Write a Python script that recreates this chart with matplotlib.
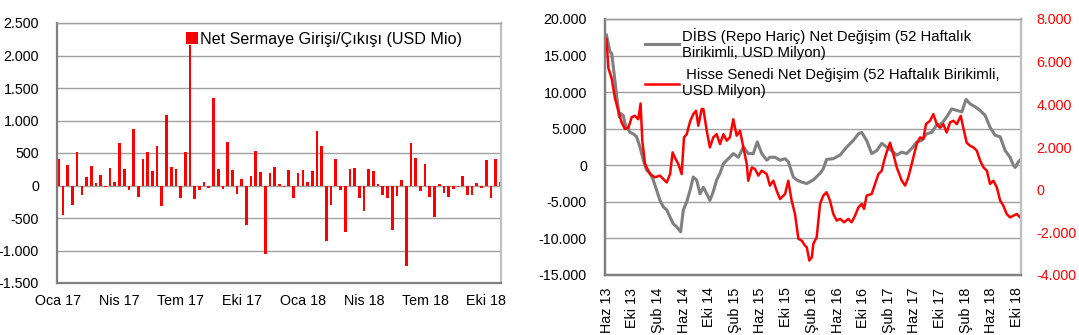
import numpy as np
import pandas as pd
import matplotlib
matplotlib.use('Agg')
import matplotlib.pyplot as plt
from matplotlib.ticker import FuncFormatter

plt.rcParams['font.family'] = ['Liberation Sans', 'DejaVu Sans']
plt.rcParams['font.size'] = 10.3

# left chart: weekly net capital flow (USD mn), Fridays from 6 Jan 2017
flow_start = '2017-01-06'
net_flow = [410, -460, 320, -300, 520, -145, 135, 305, 45, 155,
            -20, 270, 60, 650, 260, -70, 865, -170, 410, 520,
            230, 605, -310, 1090, 290, 255, -185, 515, 2155, -215,
            -70, 60, -35, 1345, 255, -60, 670, 245, -130, 105,
            -600, 145, 535, 210, -1050, 195, 285, 25, -20, 245,
            -190, 200, 235, 50, 225, 845, 615, -850, -305, 405,
            -75, -710, 250, 270, -190, -390, 260, 230, 20, -150,
            -185, -690, -155, 85, -1240, 655, 425, -90, 335, -175,
            -485, 30, -115, -180, -50, -20, 150, -140, -150, 40,
            -35, 390, -190, 415, 50]
left_ticks = ['2017-01-06', '2017-04-07', '2017-07-07', '2017-10-06',
              '2018-01-05', '2018-04-06', '2018-07-06', '2018-10-05']
left_labels = ['Oca 17', 'Nis 17', 'Tem 17', 'Eki 17',
               'Oca 18', 'Nis 18', 'Tem 18', 'Eki 18']

# right chart: 52 week cumulative changes (USD mn)
dibs_dates = ['2013-05-31', '2013-06-17', '2013-06-25', '2013-07-10', '2013-07-21',
              '2013-07-31', '2013-08-06', '2013-08-19', '2013-08-27', '2013-09-04',
              '2013-09-20', '2013-10-05', '2013-10-21', '2013-11-06', '2013-11-22',
              '2013-12-08', '2013-12-24', '2014-01-08', '2014-01-24', '2014-02-09',
              '2014-02-25', '2014-03-13', '2014-03-29', '2014-04-13', '2014-04-29',
              '2014-05-18', '2014-05-31', '2014-06-16', '2014-07-02', '2014-07-17',
              '2014-08-02', '2014-08-18', '2014-09-03', '2014-09-19', '2014-10-04',
              '2014-10-20', '2014-11-05', '2014-11-21', '2014-12-07', '2014-12-23',
              '2015-01-07', '2015-01-23', '2015-02-16', '2015-03-12', '2015-04-04',
              '2015-04-28', '2015-05-17', '2015-06-07', '2015-07-01', '2015-07-16',
              '2015-08-09', '2015-09-02', '2015-09-26', '2015-10-11', '2015-11-04',
              '2015-11-20', '2015-12-14', '2016-01-07', '2016-02-07', '2016-03-10',
              '2016-03-25', '2016-04-10', '2016-05-12', '2016-06-13', '2016-07-15',
              '2016-08-15', '2016-09-08', '2016-09-24', '2016-10-17', '2016-11-10',
              '2016-12-04', '2016-12-28', '2017-01-20', '2017-02-13', '2017-03-09',
              '2017-04-02', '2017-04-25', '2017-05-19', '2017-06-12', '2017-07-06',
              '2017-07-29', '2017-08-22', '2017-09-15', '2017-10-09', '2017-11-01',
              '2017-11-25', '2017-12-19', '2018-01-12', '2018-02-01', '2018-02-20',
              '2018-03-16', '2018-04-09', '2018-05-03', '2018-05-26', '2018-06-19',
              '2018-07-13', '2018-08-06', '2018-08-29', '2018-09-14', '2018-09-22',
              '2018-10-08', '2018-10-19']
dibs = [17800, 15500, 15300, 11600, 8900, 6600, 7100, 6800, 5700, 5200,
        4500, 4300, 3900, 2500, 700, -700, -1100, -2000, -3400, -4800,
        -5700, -6100, -7100, -8000, -8400, -9100, -6100, -5000, -3400, -1600,
        -2000, -3900, -3000, -3900, -4800, -3600, -2000, -1100, 200, 700,
        1100, 1600, 1100, 2500, 1600, 1600, 3200, 1600, 700, 1100,
        1100, 700, 900, 500, -1600, -2000, -2300, -2500, -2000, -1100,
        -500, 800, 900, 1400, 2500, 3400, 4300, 4500, 3400, 1600,
        2000, 3000, 2500, 2000, 1400, 1800, 1600, 2300, 3200, 3400,
        4300, 4500, 5500, 5700, 6600, 7700, 7500, 7300, 9000, 8400,
        8000, 7500, 6800, 5200, 4100, 3900, 2000, 1100, 0, -300,
        500, 800]

hisse_dates = ['2013-05-31', '2013-06-09', '2013-06-25', '2013-07-10', '2013-07-26',
               '2013-08-11', '2013-08-27', '2013-09-12', '2013-09-28', '2013-10-13',
               '2013-10-29', '2013-11-09', '2013-11-17', '2013-11-30', '2013-12-08',
               '2013-12-24', '2014-01-16', '2014-02-09', '2014-02-25', '2014-03-13',
               '2014-03-29', '2014-04-10', '2014-04-21', '2014-05-07', '2014-05-23',
               '2014-06-03', '2014-06-16', '2014-07-02', '2014-07-17', '2014-07-30',
               '2014-08-10', '2014-08-26', '2014-09-03', '2014-09-19', '2014-10-04',
               '2014-10-20', '2014-11-05', '2014-11-21', '2014-12-07', '2014-12-23',
               '2015-01-07', '2015-01-23', '2015-02-08', '2015-02-24', '2015-03-12',
               '2015-03-28', '2015-04-04', '2015-04-21', '2015-05-06', '2015-05-22',
               '2015-06-07', '2015-07-01', '2015-07-16', '2015-08-01', '2015-08-17',
               '2015-09-02', '2015-09-26', '2015-10-11', '2015-10-27', '2015-11-12',
               '2015-11-28', '2015-12-14', '2015-12-29', '2016-01-07', '2016-01-19',
               '2016-01-31', '2016-02-07', '2016-02-23', '2016-03-10', '2016-03-25',
               '2016-04-10', '2016-04-26', '2016-05-12', '2016-05-28', '2016-06-13',
               '2016-07-02', '2016-07-22', '2016-08-07', '2016-08-23', '2016-09-08',
               '2016-09-24', '2016-10-05', '2016-10-17', '2016-11-10', '2016-11-26',
               '2016-12-12', '2016-12-28', '2017-01-08', '2017-01-20', '2017-02-05',
               '2017-02-21', '2017-03-09', '2017-04-02', '2017-04-18', '2017-05-03',
               '2017-05-19', '2017-05-27', '2017-06-12', '2017-06-28', '2017-07-13',
               '2017-07-26', '2017-08-14', '2017-08-30', '2017-09-15', '2017-10-01',
               '2017-10-16', '2017-11-01', '2017-11-17', '2017-12-03', '2017-12-19',
               '2018-01-07', '2018-01-19', '2018-02-04', '2018-02-20', '2018-03-08',
               '2018-03-24', '2018-04-09', '2018-04-25', '2018-05-11', '2018-05-26',
               '2018-06-11', '2018-06-27', '2018-07-13', '2018-07-28', '2018-08-13',
               '2018-08-29', '2018-09-14', '2018-09-30', '2018-10-16']
hisse = [7070, 5700, 5200, 4300, 3700, 3150, 2840, 2900, 3400, 3460,
         3300, 4040, 2300, 1200, 1040, 730, 580, 660, 500, 340,
         730, 1750, 1500, 1200, 730, 2450, 2600, 3200, 3540, 3700,
         3000, 3780, 3780, 2760, 1980, 2450, 2600, 2140, 2600, 2300,
         2450, 3300, 2530, 2760, 1980, 1200, 420, 1040, 970, 660,
         890, 730, 190, 420, -50, -440, -200, 420, -510, -1140,
         -2300, -2390, -2620, -2700, -3320, -3170, -2540, -2230, -670, -280,
         -120, -510, -1140, -1450, -1370, -1530, -1370, -1530, -1220, -830,
         -670, -900, -280, -200, 270, 730, 890, 1360, 1750, 2200,
         1670, 1040, 420, 190, 580, 1200, 1500, 2140, 2450, 2370,
         3070, 3230, 3540, 3070, 2900, 3070, 2680, 3150, 3230, 3070,
         3460, 2900, 2200, 2060, 1980, 1830, 1360, 1040, 890, 270,
         420, 110, -510, -750, -1140, -1300, -1220, -1140, -1300]

right_ticks = ['2013-06-01', '2013-10-01', '2014-02-01', '2014-06-01', '2014-10-01',
               '2015-02-01', '2015-06-01', '2015-10-01', '2016-02-01', '2016-06-01',
               '2016-10-01', '2017-02-01', '2017-06-01', '2017-10-01', '2018-02-01',
               '2018-06-01', '2018-10-01']
right_labels = ['Haz 13', 'Eki 13', 'Şub 14', 'Haz 14', 'Eki 14', 'Şub 15', 'Haz 15',
                'Eki 15', 'Şub 16', 'Haz 16', 'Eki 16', 'Şub 17', 'Haz 17', 'Eki 17',
                'Şub 18', 'Haz 18', 'Eki 18']


def dot_thousands(v, pos=None):
    return '{:,.0f}'.format(v).replace(',', '.')


def style_frame(ax, right_color='#c0c0c0'):
    for side in ['left', 'bottom']:
        ax.spines[side].set_color('#808080')
        ax.spines[side].set_linewidth(1.6)
    ax.spines['right'].set_color(right_color)
    ax.spines['right'].set_linewidth(1.6)
    ax.spines['top'].set_color('#a0a0a0')
    ax.spines['top'].set_linewidth(1.0)
    ax.tick_params(length=0)
    ax.grid(axis='y', color='#a0a0a0', linewidth=1.0)
    ax.set_axisbelow(True)


fig = plt.figure(figsize=(10.79, 3.35), dpi=100)

# ---- left: bars
ax1 = fig.add_axes([57 / 1079, 52 / 335, 444 / 1079, 260 / 335])
bar_dates = pd.date_range(flow_start, periods=len(net_flow), freq='7D')
bars = ax1.bar(bar_dates, net_flow, width=4.0, color='#ff0000', linewidth=0,
               label='Net Sermaye Girişi/Çıkışı (USD Mio)')
ax1.set_ylim(-1500, 2500)
ax1.set_yticks(np.arange(-1500, 2501, 500))
ax1.yaxis.set_major_formatter(FuncFormatter(dot_thousands))
ax1.set_xlim(pd.Timestamp('2017-01-04'), pd.Timestamp('2018-10-27'))
ax1.set_xticks(pd.to_datetime(left_ticks))
ax1.set_xticklabels(left_labels)
style_frame(ax1)
ax1.tick_params(axis='y', pad=13)
ax1.tick_params(axis='x', pad=8)
ax1.legend(loc='upper left', bbox_to_anchor=(0.27, 1.0), frameon=False,
           handlelength=0.75, handleheight=0.75, handletextpad=0.15,
           borderaxespad=0.15, fontsize=11.6)

# ---- right: lines on two axes
ax2 = fig.add_axes([605 / 1079, 60 / 335, 416 / 1079, 256 / 335])
ax3 = ax2.twinx()
l1, = ax2.plot(pd.to_datetime(dibs_dates), dibs, color='#808080', linewidth=2.2,
               label='DİBS (Repo Hariç) Net Değişim (52 Haftalık\nBirikimli, USD Milyon)')
l2, = ax3.plot(pd.to_datetime(hisse_dates), hisse, color='#ff0000', linewidth=1.8,
               label=' Hisse Senedi Net Değişim (52 Haftalık Birikimli,\nUSD Milyon)')
ax2.set_ylim(-15000, 20000)
ax2.set_yticks(np.arange(-15000, 20001, 5000))
ax2.yaxis.set_major_formatter(FuncFormatter(dot_thousands))
ax3.set_ylim(-4000, 8000)
ax3.set_yticks(np.arange(-4000, 8001, 2000))
ax3.yaxis.set_major_formatter(FuncFormatter(dot_thousands))
ax2.set_xlim(pd.Timestamp('2013-05-24'), pd.Timestamp('2018-10-20'))
ax2.set_xticks(pd.to_datetime(right_ticks))
ax2.set_xticklabels(right_labels, rotation=90)
style_frame(ax2)
style_frame(ax3)
ax3.grid(False)
ax2.tick_params(axis='y', pad=13)
ax2.tick_params(axis='x', pad=9)
ax3.tick_params(axis='y', pad=11, colors='#ff0000', length=0)
ax3.legend(handles=[l1, l2], loc='upper left', bbox_to_anchor=(0.075, 1.0),
           frameon=False, handlelength=2.3, handletextpad=0.15, labelspacing=0.55,
           borderaxespad=0.2, fontsize=10.7)

fig.savefig('out.png', dpi=100)
